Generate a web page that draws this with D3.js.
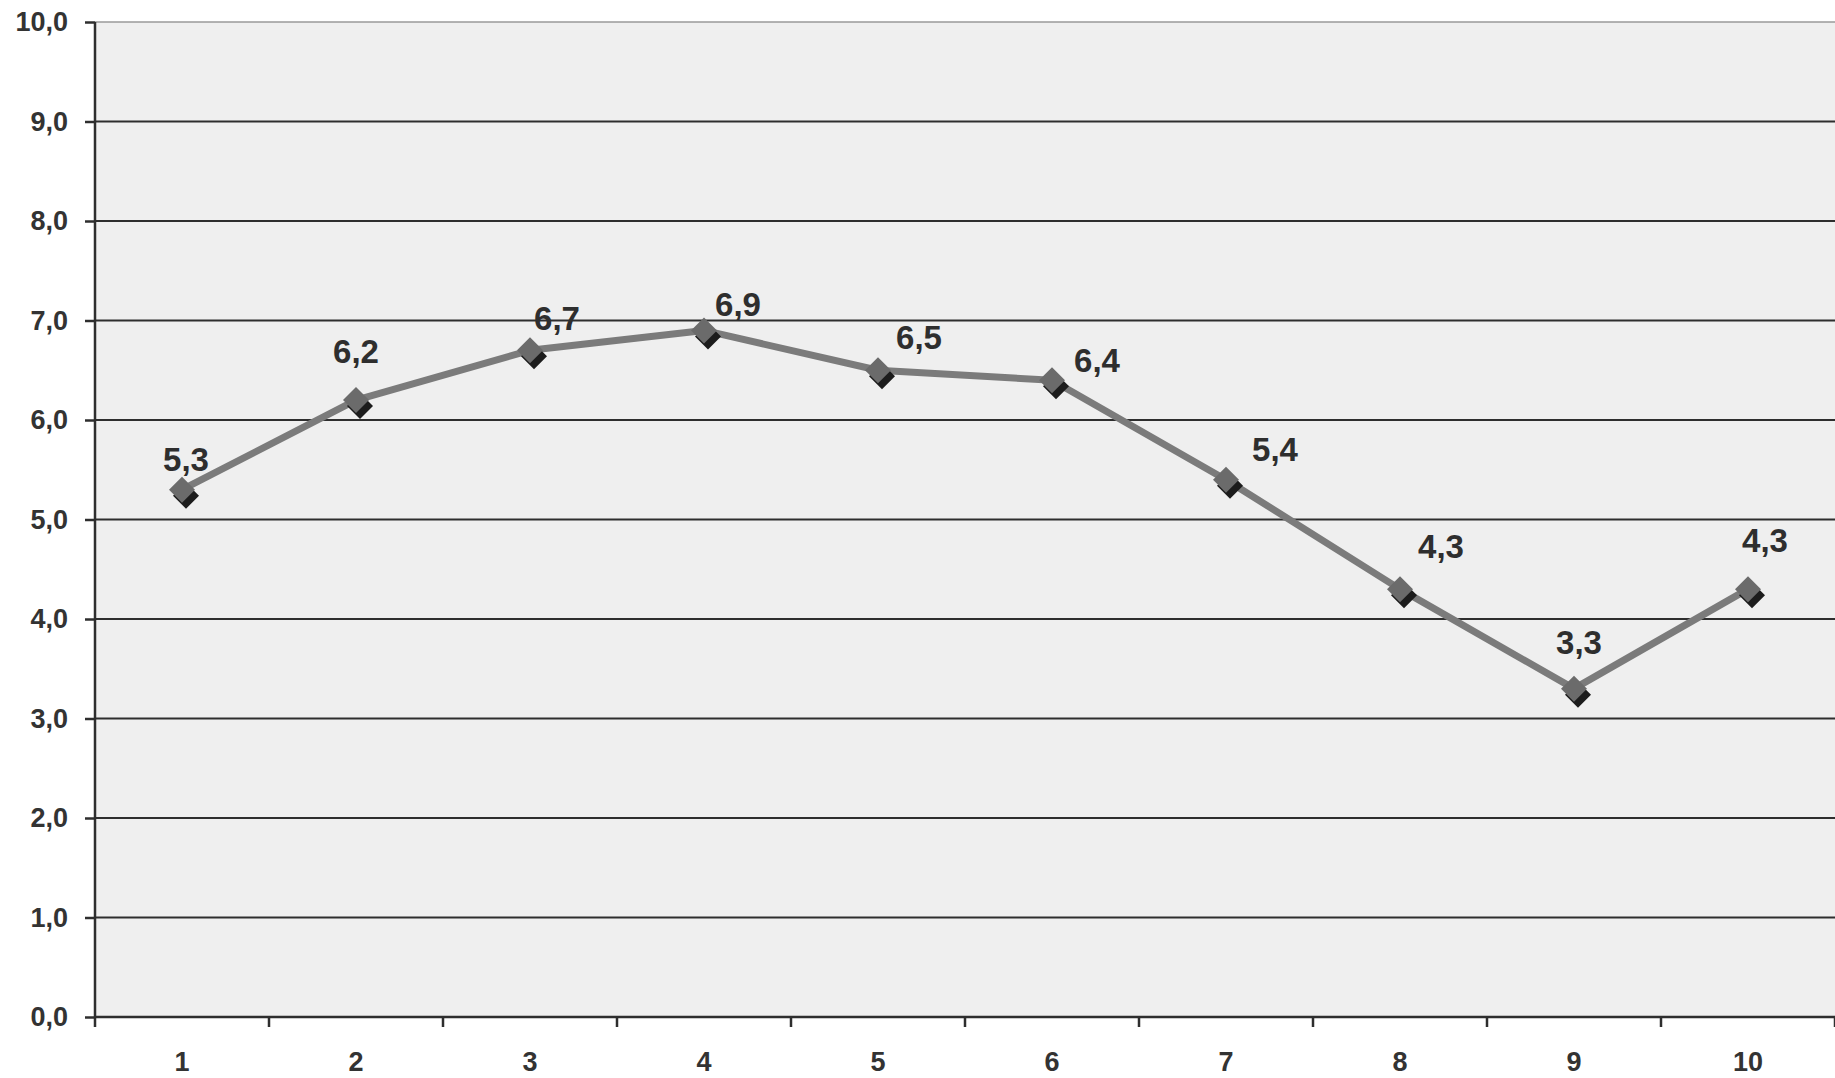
<!DOCTYPE html>
<html><head><meta charset="utf-8">
<script src="https://cdn.jsdelivr.net/npm/d3@7"></script>
<style>html,body{margin:0;padding:0;background:#fff;}svg{display:block;}</style>
</head><body>
<svg id="chart" width="1835" height="1078"></svg>
<script>
const categories = ["1","2","3","4","5","6","7","8","9","10"];
const values = [5.3, 6.2, 6.7, 6.9, 6.5, 6.4, 5.4, 4.3, 3.3, 4.3];
const yTicks = [0,1,2,3,4,5,6,7,8,9,10];
// label placement (layout only): offset of label centre / baseline from marker
const labelDx = [4, 0, 27, 34, 41, 45, 49, 41, 5, 17];
const labelDy = [-19, -37, -20, -14, -21, -8, -19, -31, -35, -37];

const W = 1835, H = 1078;
const m = {left: 95, right: 0, top: 22, bottom: 61};
const svg = d3.select("#chart");
const x = d3.scaleBand().domain(categories).range([m.left, W - m.right]).padding(0);
const y = d3.scaleLinear().domain([0, 10]).range([H - m.bottom, m.top]);
const fmt = v => d3.format(".1f")(v).replace(".", ",");
const font = "'Liberation Sans', Arial, sans-serif";

// plot background
svg.append("rect").attr("x", m.left).attr("y", y(10)).attr("width", W - m.left).attr("height", y(0) - y(10)).attr("fill", "#efefef");
// top border
svg.append("line").attr("x1", m.left).attr("x2", W).attr("y1", y(10)).attr("y2", y(10)).attr("stroke", "#9a9a9a").attr("stroke-width", 1.5);

// grid lines
svg.append("g").selectAll("line").data(yTicks.filter(t => t > 0 && t < 10)).join("line")
  .attr("x1", m.left).attr("x2", W).attr("y1", d => y(d)).attr("y2", d => y(d))
  .attr("stroke", "#2e2e2e").attr("stroke-width", 2);

// y axis
const yAxis = svg.append("g").attr("transform", `translate(${m.left},0)`)
  .call(d3.axisLeft(y).tickValues(yTicks).tickFormat(fmt).tickSize(10).tickPadding(17));
yAxis.select(".domain").attr("stroke", "#2e2e2e").attr("stroke-width", 2.5).attr("d", `M0,${y(10)}V${y(0)+10}`);
yAxis.selectAll(".tick line").attr("stroke", "#2e2e2e").attr("stroke-width", 2.5);
yAxis.selectAll(".tick text").attr("font-family", font).attr("font-weight", "bold").attr("font-size", 27).attr("fill", "#333");

// x axis
const xAxis = svg.append("g").attr("transform", `translate(0,${y(0)})`)
  .call(d3.axisBottom(x).tickSize(0).tickPadding(35));
xAxis.select(".domain").attr("stroke", "#2e2e2e").attr("stroke-width", 2.5).attr("d", `M${m.left},0H${W}`);
xAxis.selectAll(".tick text").attr("font-family", font).attr("font-weight", "bold").attr("font-size", 27).attr("fill", "#333");
// category boundary ticks
svg.append("g").selectAll("line").data(categories).join("line")
  .attr("x1", d => x(d) + x.bandwidth()).attr("x2", d => x(d) + x.bandwidth())
  .attr("y1", y(0)).attr("y2", y(0) + 10).attr("stroke", "#2e2e2e").attr("stroke-width", 2.5);

const cx = (d, i) => x(categories[i]) + x.bandwidth() / 2;

// line
const line = d3.line().x((d, i) => cx(d, i)).y(d => y(d));
svg.append("path").datum(values).attr("d", line).attr("fill", "none")
  .attr("stroke", "#7b7b7b").attr("stroke-width", 7).attr("stroke-linejoin", "round");

// markers with shadow
const s = 13;
const diamond = `M0,${-s}L${s},0L0,${s}L${-s},0Z`;
svg.append("g").selectAll("path").data(values).join("path")
  .attr("d", diamond).attr("transform", (d, i) => `translate(${cx(d, i) + 4},${y(d) + 6})`)
  .attr("fill", "#1c1c1c");
svg.append("g").selectAll("path").data(values).join("path")
  .attr("d", diamond).attr("transform", (d, i) => `translate(${cx(d, i)},${y(d)})`)
  .attr("fill", "#6b6b6b");

// data labels
svg.append("g").selectAll("text").data(values).join("text")
  .attr("x", (d, i) => cx(d, i) + labelDx[i]).attr("y", (d, i) => y(d) + labelDy[i])
  .attr("text-anchor", "middle").attr("font-family", font).attr("font-weight", "bold")
  .attr("font-size", 33).attr("fill", "#2e2e2e").text(fmt);
</script>
</body></html>
